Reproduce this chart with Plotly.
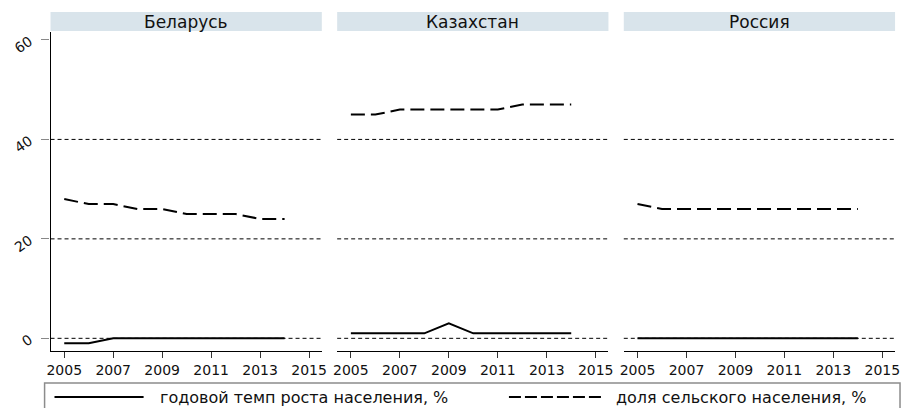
import plotly.graph_objects as go

# ---- data ----
years = [2005, 2006, 2007, 2008, 2009, 2010, 2011, 2012, 2013, 2014]
countries = ["Беларусь", "Казахстан", "Россия"]
growth_belarus = [-1, -1, 0, 0, 0, 0, 0, 0, 0, 0]
rural_belarus = [28, 27, 27, 26, 26, 25, 25, 25, 24, 24]
growth_kazakhstan = [1, 1, 1, 1, 3, 1, 1, 1, 1, 1]
rural_kazakhstan = [45, 45, 46, 46, 46, 46, 46, 47, 47, 47]
growth_russia = [0, 0, 0, 0, 0, 0, 0, 0, 0, 0]
rural_russia = [27, 26, 26, 26, 26, 26, 26, 26, 26, 26]
x_ticks = [2005, 2007, 2009, 2011, 2013, 2015]
y_ticks = [0, 20, 40, 60]
grid_values = [0, 20, 40]
series_names = ["годовой темп роста населения, %", "доля сельского населения, %"]

growth = [growth_belarus, growth_kazakhstan, growth_russia]
rural = [rural_belarus, rural_kazakhstan, rural_russia]

# ---- layout geometry (pixels) ----
W, H = 907, 408
panel_left = [47, 336.5, 626]
panel_w = 274
plot_top, plot_bottom = 32, 351
strip_top, strip_bottom = 12, 31
FONT = "DejaVu Sans, Liberation Sans, Arial, sans-serif"
DASH_LONG = "14px,6px"

def px_x(p):
    return p / W

def px_y(p):
    return 1 - p / H

fig = go.Figure()
shapes = []
annotations = []
layout = dict(
    width=W, height=H, autosize=False,
    margin=dict(l=0, r=0, t=0, b=0),
    paper_bgcolor="white", plot_bgcolor="white",
    showlegend=False,
    font=dict(family=FONT, color="#111"),
)

for i, name in enumerate(countries):
    k = i + 1
    xa = "x" if k == 1 else f"x{k}"
    ya = "y" if k == 1 else f"y{k}"
    fig.add_trace(go.Scatter(x=years, y=growth[i], mode="lines", xaxis=xa, yaxis=ya,
                             name=series_names[0],
                             line=dict(color="black", width=2)))
    fig.add_trace(go.Scatter(x=years, y=rural[i], mode="lines", xaxis=xa, yaxis=ya,
                             name=series_names[1],
                             line=dict(color="black", width=2, dash=DASH_LONG)))
    left = panel_left[i]
    layout["xaxis" if k == 1 else f"xaxis{k}"] = dict(
        domain=[px_x(left), px_x(left + panel_w)],
        range=[2004.44, 2015.52],
        tickvals=x_ticks,
        ticks="outside", ticklen=6, tickwidth=1, tickcolor="#333",
        showline=True, linecolor="black", linewidth=1.2,
        showgrid=False, zeroline=False,
        tickfont=dict(size=14, family=FONT, color="#111"),
        anchor=ya,
        fixedrange=True,
    )
    yax = dict(
        domain=[px_y(plot_bottom), px_y(plot_top)],
        range=[-2.55, 61.6],
        showgrid=False, zeroline=False,
        anchor=xa,
        fixedrange=True,
    )
    if k == 1:
        yax.update(tickvals=y_ticks, ticks="outside", ticklen=8, tickwidth=1,
                   tickcolor="#888", showline=True, linecolor="black", linewidth=1.2,
                   tickangle=-35, ticklabelstandoff=9,
                   tickfont=dict(size=14, family=FONT, color="#111"))
    else:
        yax.update(showticklabels=False, ticks="", showline=False)
    layout["yaxis" if k == 1 else f"yaxis{k}"] = yax

    for g in grid_values:
        shapes.append(dict(type="line", xref=f"{xa} domain", x0=0, x1=1,
                           yref=ya, y0=g, y1=g, layer="below",
                           line=dict(color="black", width=1, dash="4px,3px")))
    shapes.append(dict(type="rect", xref=f"{xa} domain", x0=0, x1=1,
                       yref="paper", y0=px_y(strip_bottom), y1=px_y(strip_top),
                       fillcolor="#d9e4eb", line=dict(width=0)))
    annotations.append(dict(text=name, xref=f"{xa} domain", x=0.5,
                            yref="paper", y=px_y((strip_top + strip_bottom) / 2),
                            showarrow=False, xanchor="center", yanchor="middle",
                            font=dict(size=17, family=FONT, color="#111")))

# ---- legend (drawn manually) ----
leg_top, leg_y = 383, 397
shapes.append(dict(type="rect", xref="paper", yref="paper",
                   x0=px_x(41), x1=px_x(905), y0=px_y(H + 10), y1=px_y(leg_top),
                   line=dict(color="#8c8c8c", width=1.5), fillcolor="rgba(0,0,0,0)"))
shapes.append(dict(type="line", xref="paper", yref="paper",
                   x0=px_x(51), x1=px_x(141), y0=px_y(leg_y), y1=px_y(leg_y),
                   line=dict(color="black", width=2)))
shapes.append(dict(type="line", xref="paper", yref="paper",
                   x0=px_x(510), x1=px_x(604), y0=px_y(leg_y), y1=px_y(leg_y),
                   line=dict(color="black", width=2, dash="12px,4px")))
annotations.append(dict(text=series_names[0], xref="paper", yref="paper",
                        x=px_x(156), y=px_y(leg_y), xanchor="left", yanchor="middle",
                        showarrow=False, font=dict(size=16, family=FONT, color="#111")))
annotations.append(dict(text=series_names[1], xref="paper", yref="paper",
                        x=px_x(616), y=px_y(leg_y), xanchor="left", yanchor="middle",
                        showarrow=False, font=dict(size=16, family=FONT, color="#111")))

layout["shapes"] = shapes
layout["annotations"] = annotations
fig.update_layout(**layout)
fig.write_html(
    "out.html",
    config={"displayModeBar": False},
    post_script="document.body.style.margin='0';document.body.style.overflow='hidden';",
)
